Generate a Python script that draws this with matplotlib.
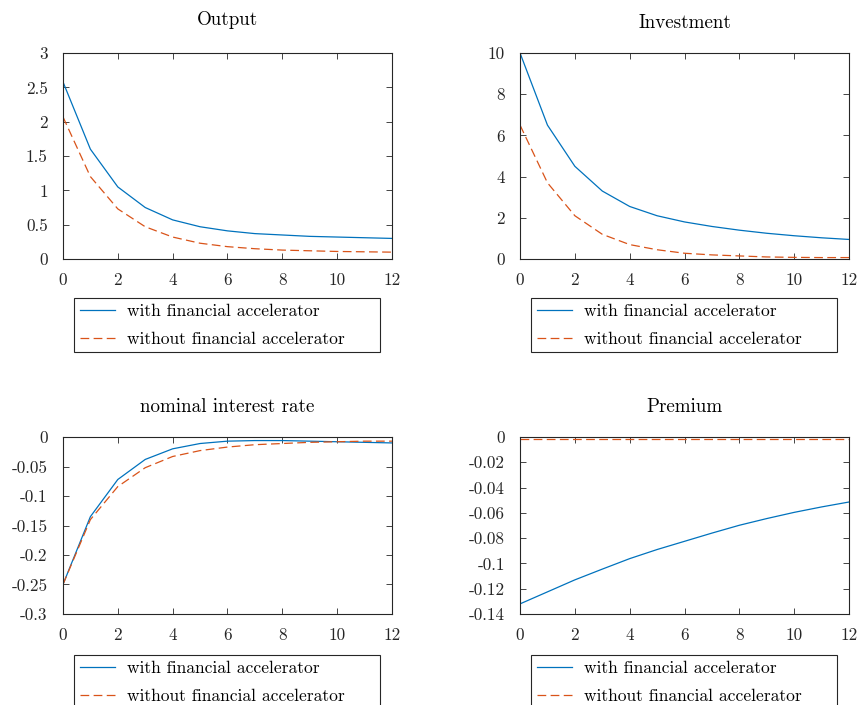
import numpy as np
from matplotlib import pyplot as plt

plt.rcParams['font.family'] = ['cmr10', 'DejaVu Serif']
plt.rcParams['font.size'] = 12

# horizon
periods = np.arange(0, 13)

# impulse responses
output_with = [2.58, 1.60, 1.05, 0.75, 0.57, 0.47, 0.41, 0.37, 0.35, 0.33, 0.32, 0.31, 0.30]
output_without = [2.07, 1.20, 0.73, 0.47, 0.32, 0.23, 0.18, 0.15, 0.13, 0.12, 0.11, 0.105, 0.10]

invest_with = [10.0, 6.5, 4.5, 3.3, 2.55, 2.1, 1.8, 1.58, 1.4, 1.25, 1.13, 1.03, 0.95]
invest_without = [6.5, 3.7, 2.1, 1.2, 0.7, 0.45, 0.28, 0.2, 0.15, 0.1, 0.08, 0.07, 0.07]

rate_with = [-0.25, -0.135, -0.072, -0.038, -0.020, -0.011, -0.007, -0.006, -0.006,
             -0.007, -0.008, -0.009, -0.010]
rate_without = [-0.25, -0.140, -0.084, -0.052, -0.033, -0.023, -0.017, -0.013, -0.011,
                -0.009, -0.008, -0.007, -0.007]

premium_with = [-0.132, -0.1225, -0.113, -0.1045, -0.0962, -0.089, -0.0825, -0.076,
                -0.0698, -0.0645, -0.0596, -0.0553, -0.0514]
premium_without = [-0.0013] * 13

titles = ["Output", "Investment", "nominal interest rate", "Premium"]
labels = ["with financial accelerator", "without financial accelerator"]

y_ticks = [
    [0, 0.5, 1, 1.5, 2, 2.5, 3],
    [0, 2, 4, 6, 8, 10],
    [-0.3, -0.25, -0.2, -0.15, -0.1, -0.05, 0],
    [-0.14, -0.12, -0.1, -0.08, -0.06, -0.04, -0.02, 0],
]
y_ticklabels = [
    ["0", "0.5", "1", "1.5", "2", "2.5", "3"],
    ["0", "2", "4", "6", "8", "10"],
    ["-0.3", "-0.25", "-0.2", "-0.15", "-0.1", "-0.05", "0"],
    ["-0.14", "-0.12", "-0.1", "-0.08", "-0.06", "-0.04", "-0.02", "0"],
]
series = [
    (output_with, output_without),
    (invest_with, invest_without),
    (rate_with, rate_without),
    (premium_with, premium_without),
]

blue = "#0072BD"
orange = "#D95319"
dark = "#262626"

fig = plt.figure(figsize=(8.59, 7.05), dpi=100)
positions = [
    [0.0733, 0.6326, 0.383, 0.2922],
    [0.6054, 0.6326, 0.383, 0.2922],
    [0.0733, 0.1291, 0.383, 0.2510],
    [0.6054, 0.1291, 0.383, 0.2510],
]
# legend box top, in axes fraction
legend_top = [-0.189, -0.189, -0.232, -0.232]
title_pad = [20, 18, 18, 18]

for i in range(4):
    ax = fig.add_axes(positions[i])
    w, wo = series[i]
    ax.plot(periods, w, color=blue, lw=0.9, label=labels[0])
    ax.plot(periods, wo, color=orange, lw=0.9, ls=(0, (7, 3.5)), label=labels[1])
    ax.set_xlim(0, 12)
    ax.set_ylim(y_ticks[i][0], y_ticks[i][-1])
    ax.set_xticks(range(0, 13, 2))
    ax.set_yticks(y_ticks[i])
    ax.set_yticklabels(y_ticklabels[i])
    ax.tick_params(direction='in', top=True, right=True, length=4, width=0.6,
                   colors=dark, labelcolor=dark, labelsize=12.3)
    ax.tick_params(axis='x', pad=10)
    ax.tick_params(axis='y', pad=11)
    for sp in ax.spines.values():
        sp.set_color(dark)
        sp.set_linewidth(0.8)
    ax.set_title(titles[i], fontsize=13.7, pad=title_pad[i])
    leg = ax.legend(loc='upper left', bbox_to_anchor=(0.0334, legend_top[i], 0.930, 0.0),
                    mode='expand', borderaxespad=0,
                    fancybox=False, framealpha=1, edgecolor=dark,
                    fontsize=12.6, handlelength=2.0, handletextpad=0.7,
                    borderpad=0.32, labelspacing=0.72)
    leg.get_frame().set_linewidth(0.8)

plt.savefig("out.png", dpi=100)
